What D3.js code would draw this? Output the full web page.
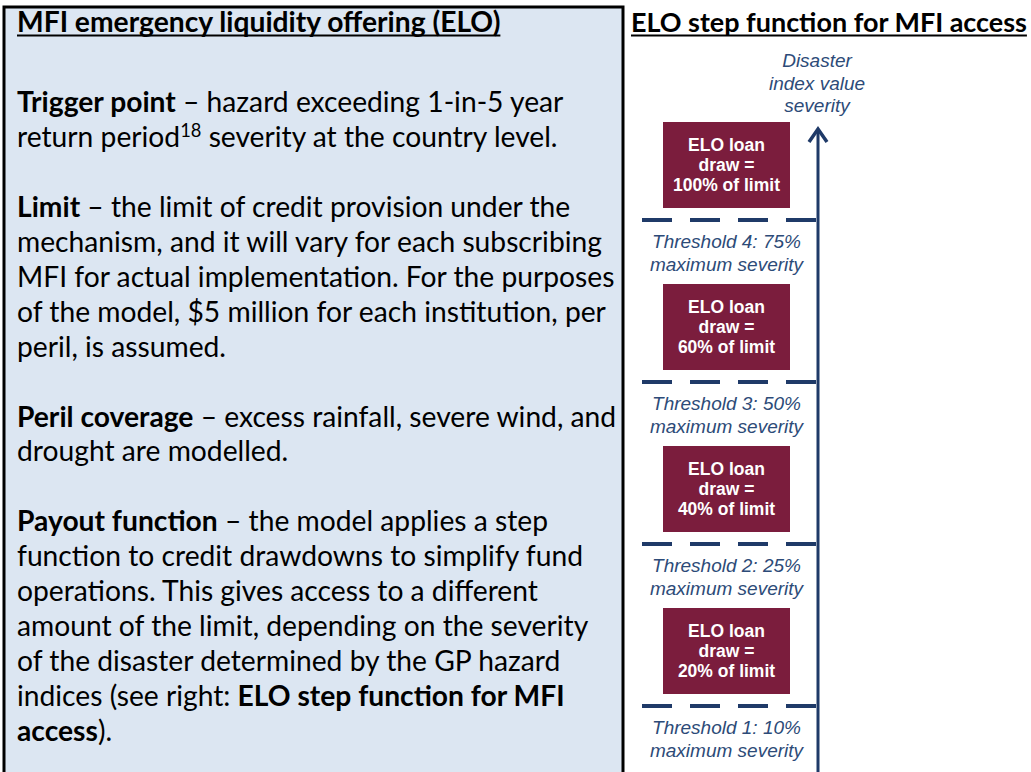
<!DOCTYPE html>
<html>
<head>
<meta charset="utf-8">
<script src="https://cdn.jsdelivr.net/npm/d3@7"></script>
<style>
  body { margin: 0; background: #fff; }
  svg { display: block; }
</style>
</head>
<body>
<svg id="chart" width="1031" height="772"></svg>
<script>
// tiers of the step function, from the top of the arrow down
var drawShares = [100, 60, 40, 20]
var thresholdNums = [4, 3, 2, 1]
var thresholdSeverity = [75, 50, 25, 10]
var axisLabel = ['Disaster', 'index value', 'severity']

var leftTitle = 'MFI emergency liquidity offering (ELO)'
var rightTitle = 'ELO step function for MFI access'

// each line is a list of [text, bold, sup]; null is an empty line
var bodyLines = [
  [['Trigger point', 1], [' \u2013 hazard exceeding 1-in-5 year', 0]],
  [['return period', 0], ['18', 0, 1], [' severity at the country level.', 0]],
  null,
  [['Limit', 1], [' \u2013 the limit of credit provision under the', 0]],
  [['mechanism, and it will vary for each subscribing', 0]],
  [['MFI for actual implementation. For the purposes', 0]],
  [['of the model, $5 million for each institution, per', 0]],
  [['peril, is assumed.', 0]],
  null,
  [['Peril coverage', 1], [' \u2013 excess rainfall, severe wind, and', 0]],
  [['drought are modelled.', 0]],
  null,
  [['Payout function', 1], [' \u2013 the model applies a step', 0]],
  [['function to credit drawdowns to simplify fund', 0]],
  [['operations. This gives access to a different', 0]],
  [['amount of the limit, depending on the severity', 0]],
  [['of the disaster determined by the GP hazard', 0]],
  [['indices (see right: ', 0], ['ELO step function for MFI', 1]],
  [['access', 1], [').', 0]]
]

var svg = d3.select('#chart')
var bodyFont = 'Lato, "Open Sans", sans-serif'
var diagFont = '"Liberation Sans", Arial, sans-serif'
var navy = '#1f3a68'
var labelBlue = '#2d4b78'
var maroon = '#7b1d3d'

// left text box
svg.append('rect')
  .attr('x', 4).attr('y', 7)
  .attr('width', 619).attr('height', 800)
  .attr('fill', '#dce6f2')
  .attr('stroke', '#000')
  .attr('stroke-width', 3)

function fitSize (str, weight, target) {
  var probe = svg.append('text')
    .attr('font-family', bodyFont).attr('font-size', 30)
    .attr('font-weight', weight)
    .text(str)
  var s = 30 * target / probe.node().getComputedTextLength()
  probe.remove()
  return s
}

// font size chosen so the widest line fills the box like the original
var fs = fitSize('mechanism, and it will vary for each subscribing', 'normal', 585)

var lineY = d3.scaleLinear().domain([0, 18]).range([112, 741])

function underlined (x, y, str, size) {
  var t = svg.append('text')
    .attr('x', x).attr('y', y)
    .attr('font-family', bodyFont).attr('font-size', size)
    .attr('font-weight', 'bold').attr('fill', '#000')
    .text(str)
  var w = t.node().getComputedTextLength()
  svg.append('line')
    .attr('x1', x).attr('x2', x + w)
    .attr('y1', y + 3.5).attr('y2', y + 3.5)
    .attr('stroke', '#000').attr('stroke-width', 2)
}

underlined(17, 32, leftTitle, fs)
underlined(631, 32, rightTitle, Math.min(fs, fitSize(rightTitle, 'bold', 396)))

bodyLines.forEach(function (line, i) {
  if (!line) return
  var t = svg.append('text')
    .attr('x', 17).attr('y', lineY(i))
    .attr('font-family', bodyFont).attr('font-size', fs)
    .attr('fill', '#000')
  var raised = false
  line.forEach(function (seg) {
    var sp = t.append('tspan')
      .attr('font-weight', seg[1] ? 'bold' : 'normal')
      .text(seg[0])
    if (seg[2]) {
      sp.attr('font-size', fs * 0.65).attr('dy', -fs * 0.35)
      raised = true
    } else if (raised) {
      sp.attr('dy', fs * 0.35)
      raised = false
    }
  })
})

// step function diagram
var tierY = d3.scaleLinear().domain([0, 4]).range([58, 706])
var boxX = d3.scaleLinear().domain([0, 1]).range([663, 790])
var axisX = 818
var cx = (boxX(0) + boxX(1)) / 2

svg.selectAll('.axis-label')
  .data(axisLabel)
  .enter().append('text')
  .attr('class', 'axis-label')
  .attr('x', axisX - 1)
  .attr('y', function (d, i) { return 67 + i * 22.5 })
  .attr('text-anchor', 'middle')
  .attr('font-family', diagFont).attr('font-size', 19)
  .attr('font-style', 'italic')
  .attr('fill', labelBlue)
  .text(function (d) { return d })

svg.append('line')
  .attr('x1', axisX).attr('x2', axisX)
  .attr('y1', 130).attr('y2', 772)
  .attr('stroke', navy).attr('stroke-width', 3)

svg.append('path')
  .attr('d', 'M' + (axisX - 9) + ',142L' + axisX + ',129L' + (axisX + 9) + ',142')
  .attr('fill', 'none')
  .attr('stroke', navy).attr('stroke-width', 3.5)

var tiers = drawShares.map(function (d, i) {
  return { draw: d, num: thresholdNums[i], sev: thresholdSeverity[i], i: i }
})

var tier = svg.selectAll('.tier')
  .data(tiers)
  .enter().append('g')
  .attr('class', 'tier')

tier.append('rect')
  .attr('x', boxX(0))
  .attr('width', boxX(1) - boxX(0))
  .attr('y', function (d) { return tierY(d.i) + 64 })
  .attr('height', function (d) { return tierY(d.i + 1) - 12 - tierY(d.i) - 64 })
  .attr('fill', maroon)

tier.each(function (d) {
  var g = d3.select(this)
  var mid = (tierY(d.i) + 64 + tierY(d.i + 1) - 12) / 2
  var rows = ['ELO loan', 'draw =', d.draw + '% of limit']
  rows.forEach(function (r, k) {
    g.append('text')
      .attr('x', cx).attr('y', mid - 14 + k * 20)
      .attr('text-anchor', 'middle')
      .attr('font-family', diagFont).attr('font-size', 17.5)
      .attr('font-weight', 'bold').attr('fill', '#fff')
      .text(r)
  })
})

tier.append('line')
  .attr('x1', 642).attr('x2', axisX)
  .attr('y1', function (d) { return tierY(d.i + 1) })
  .attr('y2', function (d) { return tierY(d.i + 1) })
  .attr('stroke', navy).attr('stroke-width', 4)
  .attr('stroke-dasharray', '30,18')

tier.append('text')
  .attr('x', cx)
  .attr('y', function (d) { return tierY(d.i + 1) + 28 })
  .attr('text-anchor', 'middle')
  .attr('font-family', diagFont).attr('font-size', 19)
  .attr('font-style', 'italic').attr('fill', labelBlue)
  .text(function (d) { return 'Threshold ' + d.num + ': ' + d.sev + '%' })

tier.append('text')
  .attr('x', cx)
  .attr('y', function (d) { return tierY(d.i + 1) + 51 })
  .attr('text-anchor', 'middle')
  .attr('font-family', diagFont).attr('font-size', 19)
  .attr('font-style', 'italic').attr('fill', labelBlue)
  .text('maximum severity')
</script>
</body>
</html>
